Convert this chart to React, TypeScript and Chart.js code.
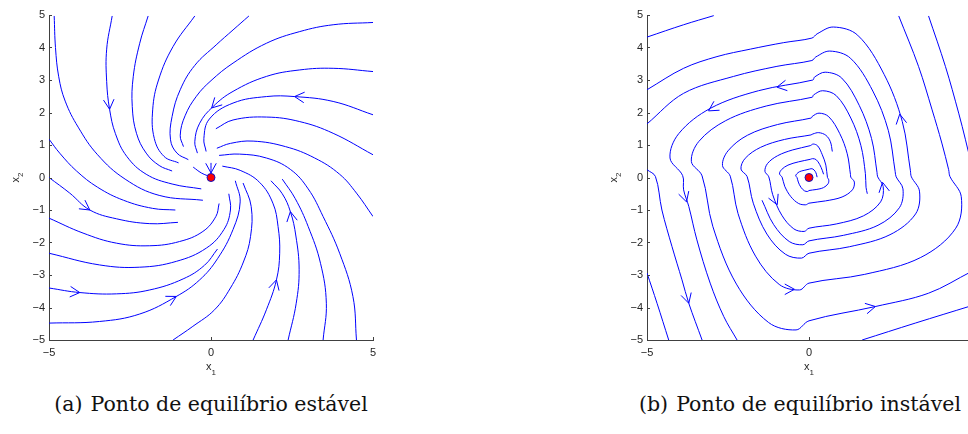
import React, { useEffect, useRef } from "react";
import { Chart, registerables } from "chart.js";

Chart.register(...registerables);

type Pt = [number, number];
type Arrow = [number, number, number]; // x, y, direction in degrees

const xTickValues = [-5, 0, 5];
const yTickValues = [-5, -4, -3, -2, -1, 0, 1, 2, 3, 4, 5];
const equilibrium: Pt = [0, 0];

// (a) stable equilibrium: streamlines
const stableCurves: Pt[][] = [
  [[-4.84, 4.97], [-4.8, 4.0], [-4.7, 3.1], [-4.5, 2.35], [-4.1, 1.55], [-3.5, 0.7], [-2.65, -0.05], [-1.6, -0.55], [-0.25, -0.7]],
  [[-3.05, 4.97], [-3.22, 3.95], [-3.22, 2.95], [-3.13, 2.1], [-2.95, 1.35], [-2.6, 0.65], [-2.0, 0.1], [-1.2, -0.2], [-0.3, -0.35]],
  [[-1.94, 4.97], [-2.2, 4.13], [-2.4, 3.1], [-2.43, 2.18], [-2.3, 1.36], [-2.0, 0.75], [-1.6, 0.37], [-1.2, 0.2]],
  [[-0.5, 4.97], [-1.17, 4.03], [-1.62, 3.0], [-1.8, 2.08], [-1.75, 1.2], [-1.45, 0.65], [-1.0, 0.45]],
  [[1.17, 4.97], [0.68, 4.54], [0.16, 4.08], [-0.5, 3.45], [-0.95, 2.7], [-1.2, 1.88], [-1.25, 1.16], [-1.05, 0.75], [-0.7, 0.55]],
  [[5.0, 4.77], [3.77, 4.7], [2.74, 4.49], [1.71, 4.13], [0.68, 3.52], [0.0, 2.98], [-0.45, 2.5], [-0.8, 1.9], [-0.95, 1.3], [-0.85, 0.95]],
  [[5.0, 3.26], [3.77, 3.36], [2.74, 3.31], [1.71, 3.11], [0.68, 2.65], [0.06, 2.18], [-0.35, 1.67], [-0.5, 1.1], [-0.42, 0.75]],
  [[5.0, 1.93], [3.77, 2.34], [2.58, 2.49], [1.71, 2.49], [0.68, 2.29], [-0.05, 1.8], [-0.22, 1.2], [-0.15, 0.8]],
  [[5.0, 0.7], [3.77, 1.36], [2.74, 1.72], [1.71, 1.86], [0.68, 1.77], [0.15, 1.5]],
  [[5.0, -1.2], [4.49, -0.48], [3.97, 0.1], [3.2, 0.6], [2.3, 0.95], [1.3, 1.12], [0.6, 1.05], [0.18, 0.9]],
  [[4.49, -5.0], [4.38, -3.66], [3.97, -2.33], [3.46, -1.2], [3.0, -0.35], [2.45, 0.25], [1.71, 0.6], [0.88, 0.72], [0.25, 0.68]],
  [[1.3, -5.0], [1.71, -4.07], [2.02, -3.15], [2.12, -2.33], [2.07, -1.51], [1.91, -0.79], [1.5, -0.15], [0.9, 0.22], [0.35, 0.35]],
  [[2.38, -5.0], [2.63, -3.87], [2.72, -2.84], [2.62, -1.8], [2.45, -1.05], [2.2, -0.5], [1.85, -0.1]],
  [[3.46, -5.0], [3.56, -3.87], [3.38, -2.64], [3.0, -1.51], [2.6, -0.65], [2.2, -0.05]],
  [[-1.17, -5.0], [-0.56, -4.58], [0.11, -4.07], [0.6, -3.4], [1.0, -2.6], [1.22, -1.82], [1.24, -0.89], [0.99, -0.17]],
  [[-5.0, 1.18], [-4.67, 0.75], [-4.15, 0.2], [-3.5, -0.3], [-2.7, -0.7], [-1.8, -0.95], [-1.1, -1.0]],
  [[-5.0, 0.0], [-4.36, -0.48], [-3.74, -1.0], [-2.92, -1.27], [-1.89, -1.42], [-1.02, -1.38]],
  [[-5.0, -1.25], [-3.95, -1.71], [-2.92, -2.02], [-1.89, -2.1], [-0.97, -1.97], [-0.25, -1.66], [0.15, -1.2], [0.25, -0.8]],
  [[-5.0, -2.33], [-3.44, -2.69], [-2.2, -2.76], [-1.07, -2.58], [-0.14, -2.17], [0.4, -1.6], [0.6, -1.0], [0.55, -0.5]],
  [[-5.0, -3.4], [-4.05, -3.54], [-2.92, -3.58], [-1.89, -3.46], [-0.86, -3.12], [-0.2, -2.7], [0.2, -2.2]],
  [[-5.0, -4.48], [-3.44, -4.43], [-2.2, -4.2], [-1.07, -3.66], [-0.35, -3.15], [0.2, -2.5], [0.68, -1.6], [0.9, -0.75], [0.75, -0.1]],
  [[0.0, 0.45], [0.0, 0.12]],
  [[-0.55, 0.32], [-0.3, 0.14], [-0.12, 0.06]],
];

const stableArrows: Arrow[] = [
  [-3.13, 2.1, -85], [2.58, 2.49, 175], [0.02, 2.14, -135], [-3.74, -1.0, -35],
  [-4.05, -3.54, -5], [-1.07, -3.66, 28], [2.02, -3.15, 75], [2.45, -1.05, 100], [0.0, 0.14, -90],
];

// (b) unstable equilibrium: streamlines
const unstableCurves: Pt[][] = [
  [[0.25, 0.01], [0.23, 0.1], [0.19, 0.19], [0.12, 0.26], [0.06, 0.27], [0.02, 0.26],
   [-0.15, 0.22], [-0.29, 0.18], [-0.38, 0.11], [-0.41, 0.05], [-0.37, 0.0],
   [-0.33, -0.14], [-0.25, -0.3], [-0.14, -0.41], [-0.04, -0.43], [0, -0.4],
   [0.22, -0.37], [0.45, -0.31], [0.59, -0.19], [0.61, -0.07], [0.57, 0.0],
   [0.52, 0.38], [0.41, 0.7], [0.27, 0.97], [0.13, 1.03], [0.04, 0.98],
   [-0.5, 0.85], [-0.97, 0.67], [-1.28, 0.43], [-1.36, 0.19], [-1.24, 0.02],
   [-1.12, -0.53], [-0.84, -1.16], [-0.47, -1.58], [-0.15, -1.66], [0, -1.56],
   [0.84, -1.43], [1.68, -1.18], [2.21, -0.75], [2.29, -0.28], [2.12, 0.02],
   [2.1, 0.15], [1.93, 1.2], [1.55, 2.22], [1.01, 3.06], [0.5, 3.24], [0.17, 3.09],
   [0.12, 3.0], [-1.56, 2.67], [-3.04, 2.13], [-4.02, 1.35], [-4.29, 0.6], [-3.9, 0.06],
   [-3.87, -0.38], [-3.71, -0.89], [-3.46, -1.92], [-3.05, -3.25], [-2.63, -4.28], [-2.22, -5.0]],
  [[0.45, 0.1], [0.41, 0.22], [0.33, 0.4], [0.22, 0.55], [0.11, 0.58], [0.04, 0.56],
   [-0.33, 0.48], [-0.65, 0.38], [-0.85, 0.24], [-0.91, 0.11], [-0.83, 0.01],
   [-0.75, -0.27], [-0.56, -0.59], [-0.32, -0.8], [-0.1, -0.84], [0, -0.79],
   [0.51, -0.72], [1.02, -0.6], [1.34, -0.38], [1.4, -0.14], [1.29, 0.01],
   [1.28, 0.09], [1.18, 0.73], [0.95, 1.35], [0.61, 1.87], [0.31, 1.98], [0.1, 1.88],
   [0.07, 1.83], [-0.97, 1.63], [-1.9, 1.3], [-2.5, 0.82], [-2.67, 0.37], [-2.43, 0.04],
   [-2.19, -1.11], [-1.65, -2.42], [-0.92, -3.29], [-0.29, -3.46], [0, -3.25],
   [1.72, -2.98], [3.45, -2.46], [4.53, -1.56], [4.7, -0.59], [4.35, 0.03],
   [4.31, 0.24], [4.1, 1.06], [3.8, 2.08], [3.38, 3.42], [2.77, 4.97]],
  [[0.72, 0.8], [0.66, 1.1], [0.52, 1.3], [0.3, 1.38], [0.12, 1.34],
   [0.06, 1.31], [-0.76, 1.17], [-1.49, 0.93], [-1.97, 0.59], [-2.1, 0.26], [-1.91, 0.03],
   [-1.72, -0.79], [-1.3, -1.74], [-0.73, -2.36], [-0.23, -2.48], [0, -2.33],
   [1.25, -2.13], [2.5, -1.76], [3.29, -1.12], [3.41, -0.42], [3.16, 0.02],
   [3.13, 0.21], [2.88, 1.72], [2.32, 3.17], [1.5, 4.38], [0.75, 4.63], [0.25, 4.42],
   [0.09, 4.29], [-0.78, 4.15], [-1.81, 3.95], [-2.84, 3.72], [-3.87, 3.36], [-5.0, 2.7]],
  [[-1.45, -0.7], [-1.09, -1.45], [-0.61, -1.97], [-0.19, -2.07], [0, -1.95],
   [1.06, -1.78], [2.13, -1.47], [2.79, -0.93], [2.9, -0.35], [2.69, 0.02],
   [2.66, 0.18], [2.45, 1.44], [1.97, 2.66], [1.28, 3.67], [0.64, 3.89], [0.21, 3.71],
   [0.09, 3.6], [-0.99, 3.42], [-2.33, 3.11], [-3.87, 2.59], [-5.0, 1.65]],
  [[1.8, -0.5], [1.76, -0.3], [1.74, 0.12], [1.6, 0.99], [1.29, 1.83], [0.84, 2.52], [0.42, 2.67], [0.14, 2.54],
   [0.1, 2.47], [-1.32, 2.2], [-2.57, 1.75], [-3.4, 1.11], [-3.63, 0.49], [-3.3, 0.05],
   [-2.97, -1.5], [-2.24, -3.28], [-1.25, -4.46], [-0.4, -4.69], [0, -4.41],
   [2.05, -3.97], [3.69, -3.56], [5.0, -2.9]],
  [[-5.0, 0.24], [-4.74, 0.03], [-4.54, -1.0], [-4.23, -2.12], [-3.92, -3.15], [-3.71, -3.87], [-3.3, -5.0]],
  [[-5.0, -2.94], [-4.69, -3.87], [-4.33, -5.0]],
  [[-5.0, 4.32], [-3.87, 4.7], [-2.94, 4.98]],
  [[3.69, 4.97], [4.21, 3.42], [4.62, 1.98], [4.83, 1.16], [5.0, 0.45]],
  [[1.64, -5.0], [3.28, -4.48], [5.0, -3.95]],
];

const unstableArrows: Arrow[] = [
  [-0.99, 2.78, 190], [-3.1, 2.05, 212], [2.8, 1.95, 100], [-3.78, -0.75, -73], [-3.71, -3.87, -74],
  [-0.98, -0.84, -66], [2.27, -0.15, 100], [-0.45, -3.44, 0], [2.05, -3.97, 12],
];

const captionLabels = ["(a)", "(b)"];
const captionTexts = ["Ponto de equilíbrio estável", "Ponto de equilíbrio instável"];

const tickFont = '"Liberation Sans", Arial, sans-serif';
const lineBlue = "#0000ff";
const axisGrey = "#404040";

const fmt = (v: number | string) => String(v).replace("-", "\u2212");

function PhasePlot({ curves, arrows, tension, left }: { curves: Pt[][]; arrows: Arrow[]; tension: number; left: number }) {
  const ref = useRef<HTMLCanvasElement>(null);
  useEffect(() => {
    const canvas = ref.current;
    if (!canvas) return;
    const datasets: any[] = [
      {
        data: [{ x: equilibrium[0], y: equilibrium[1] }],
        showLine: false,
        pointRadius: 4,
        pointBackgroundColor: "#ff0000",
        pointBorderColor: "#1010c0",
        pointBorderWidth: 1,
      },
      ...curves.map((c) => ({
        data: c.map(([x, y]) => ({ x, y })),
        showLine: true,
        borderColor: lineBlue,
        borderWidth: 1,
        pointRadius: 0,
        tension,
        fill: false,
      })),
    ];
    const decor = {
      id: "decor",
      afterDatasetsDraw(chart: any) {
        const { ctx, chartArea } = chart;
        const xs = chart.scales.x;
        const ys = chart.scales.y;
        ctx.save();
        ctx.beginPath();
        ctx.rect(chartArea.left, chartArea.top, chartArea.right - chartArea.left, chartArea.bottom - chartArea.top);
        ctx.clip();
        ctx.strokeStyle = lineBlue;
        ctx.lineWidth = 1;
        const len = 11;
        const half = 0.5;
        for (const [ax, ay, deg] of arrows) {
          const px = xs.getPixelForValue(ax);
          const py = ys.getPixelForValue(ay);
          const t = (deg * Math.PI) / 180;
          const dx = Math.cos(t);
          const dy = -Math.sin(t);
          ctx.beginPath();
          for (const s of [1, -1]) {
            const a = s * half;
            const bx = dx * Math.cos(a) - dy * Math.sin(a);
            const by = dx * Math.sin(a) + dy * Math.cos(a);
            ctx.moveTo(px - len * bx, py - len * by);
            ctx.lineTo(px, py);
          }
          ctx.stroke();
        }
        ctx.restore();
      },
      afterDraw(chart: any) {
        const { ctx, chartArea } = chart;
        const xs = chart.scales.x;
        const ys = chart.scales.y;
        ctx.save();
        ctx.strokeStyle = axisGrey;
        ctx.lineWidth = 1;
        ctx.beginPath();
        for (const v of yTickValues) {
          const py = Math.round(ys.getPixelForValue(v)) + 0.5;
          ctx.moveTo(chartArea.left, py);
          ctx.lineTo(chartArea.left + 3, py);
        }
        for (const v of xTickValues) {
          const px = Math.round(xs.getPixelForValue(v)) + 0.5;
          ctx.moveTo(px, chartArea.bottom);
          ctx.lineTo(px, chartArea.bottom - 3);
        }
        ctx.stroke();
        ctx.fillStyle = "#262626";
        // x1 label
        ctx.font = `11px ${tickFont}`;
        ctx.textBaseline = "alphabetic";
        ctx.textAlign = "left";
        const wx = ctx.measureText("x").width;
        ctx.font = `8px ${tickFont}`;
        const w1 = ctx.measureText("1").width;
        const cx = (chartArea.left + chartArea.right) / 2;
        const x0 = cx - (wx + w1) / 2;
        ctx.font = `11px ${tickFont}`;
        ctx.fillText("x", x0, chartArea.bottom + 30);
        ctx.font = `8px ${tickFont}`;
        ctx.fillText("1", x0 + wx, chartArea.bottom + 35);
        // x2 label
        const cy = (chartArea.top + chartArea.bottom) / 2;
        ctx.translate(chartArea.left - 30, cy);
        ctx.rotate(-Math.PI / 2);
        ctx.font = `8px ${tickFont}`;
        const w2 = ctx.measureText("2").width;
        const y0 = -(wx + w2) / 2;
        ctx.font = `11px ${tickFont}`;
        ctx.fillText("x", y0, 0);
        ctx.font = `8px ${tickFont}`;
        ctx.fillText("2", y0 + wx, 4);
        ctx.restore();
      },
    };
    const tickOpts = {
      font: { family: tickFont, size: 11 },
      color: "#262626",
      callback: (v: any) => fmt(v),
      autoSkip: false,
      maxRotation: 0,
    };
    const chart = new Chart(canvas, {
      type: "scatter",
      data: { datasets },
      options: {
        animation: false,
        responsive: false,
        events: [],
        layout: { padding: { left: 0, right: 27, top: 15, bottom: 0 } },
        plugins: { legend: { display: false }, tooltip: { enabled: false } },
        scales: {
          x: {
            type: "linear",
            min: -5,
            max: 5,
            afterBuildTicks: (s: any) => {
              s.ticks = xTickValues.map((v) => ({ value: v }));
            },
            afterFit: (s: any) => {
              s.height = 40;
            },
            grid: { display: true, drawOnChartArea: false, drawTicks: false },
            border: { display: true, color: axisGrey, width: 1 },
            ticks: { ...tickOpts, padding: 6 },
          },
          y: {
            type: "linear",
            min: -5,
            max: 5,
            afterBuildTicks: (s: any) => {
              s.ticks = yTickValues.map((v) => ({ value: v }));
            },
            afterFit: (s: any) => {
              s.width = 49;
            },
            grid: { display: true, drawOnChartArea: false, drawTicks: false },
            border: { display: true, color: axisGrey, width: 1 },
            ticks: { ...tickOpts, padding: 4 },
          },
        },
      } as any,
      plugins: [decor],
    });
    return () => chart.destroy();
  }, [curves, arrows, tension]);
  return (
    <canvas
      ref={ref}
      width={400}
      height={380}
      style={{ position: "absolute", left, top: 0, width: 400, height: 380 }}
    />
  );
}

function Caption({ label, text, center }: { label: string; text: string; center: number }) {
  return (
    <div
      style={{
        position: "absolute",
        left: center - 250,
        top: 393,
        width: 500,
        textAlign: "center",
        fontFamily: '"DejaVu Serif", serif',
        fontSize: 20.5,
        lineHeight: "22px",
        color: "#111",
        whiteSpace: "nowrap",
      }}
    >
      <span style={{ marginRight: 8 }}>{label}</span>
      {text}
    </div>
  );
}

export default function App() {
  return (
    <div
      style={{
        position: "absolute",
        left: 0,
        top: 0,
        width: 968,
        height: 434,
        overflow: "hidden",
        background: "#ffffff",
      }}
    >
      <PhasePlot curves={stableCurves} arrows={stableArrows} tension={0.4} left={0} />
      <PhasePlot curves={unstableCurves} arrows={unstableArrows} tension={0.35} left={598} />
      <Caption label={captionLabels[0]} text={captionTexts[0]} center={211} />
      <Caption label={captionLabels[1]} text={captionTexts[1]} center={800} />
    </div>
  );
}
